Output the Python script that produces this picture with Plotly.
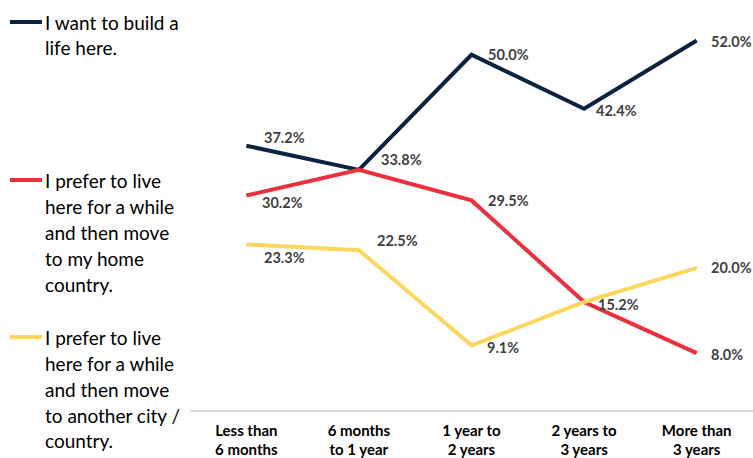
import plotly.graph_objects as go

categories = ["Less than<br>6 months", "6 months<br>to 1 year", "1 year to<br>2 years",
              "2 years to<br>3 years", "More than<br>3 years"]

build_life = [37.2, 33.8, 50.0, 42.4, 52.0]
home_country = [30.2, 33.8, 29.5, 15.2, 8.0]
other_city = [23.3, 22.5, 9.1, 15.2, 20.0]

series_names = [
    ["I want to build a", "life here."],
    ["I prefer to live", "here for a while", "and then move", "to my home", "country."],
    ["I prefer to live", "here for a while", "and then move", "to another city /", "country."],
]
series_values = [build_life, home_country, other_city]
colors = ["#0b2341", "#ee2f3e", "#fbd75b"]

# label offsets (px) per point: (xshift, yshift)
label_offsets = [
    [(16, 8), (20, 10), (14, 0), (10, -2), (12, -1)],
    [(14, -7), (20, 10), (14, 0), (12, -2), (12, -1)],
    [(16, -13), (16, 10), (13, -2), (12, -2), (12, 0)],
]

# plot area spans x 190..753 px, y 10..410 px
plot_left, plot_w = 190, 563
plot_top, plot_h = 10, 400
legend_rows = [22, 180, 337]  # first-line pixel rows
line_gap = 26

fig = go.Figure()
for lines, vals, col in zip(series_names, series_values, colors):
    fig.add_trace(go.Scatter(x=categories, y=vals, mode="lines", name=" ".join(lines),
                             line=dict(color=col, width=4), showlegend=False))

annotations = []
drawn = set()
for vals, offs in zip(series_values, label_offsets):
    for cat, v, (dx, dy) in zip(categories, vals, offs):
        if (cat, v) in drawn:
            continue  # coincident points share one label
        drawn.add((cat, v))
        annotations.append(dict(x=cat, y=v, xref="x", yref="y", text=f"{v:.1f}%",
                                showarrow=False, xanchor="left", yanchor="middle",
                                xshift=dx, yshift=dy,
                                font=dict(family="Lato", size=14.5, color="#404040", weight="bold")))


def px_to_paper_y(py):
    return 1 - (py - plot_top) / plot_h


shapes = []
for lines, col, row in zip(series_names, colors, legend_rows):
    shapes.append(dict(type="line", xref="paper", yref="paper",
                       x0=(10 - plot_left) / plot_w, x1=(42 - plot_left) / plot_w,
                       y0=px_to_paper_y(row), y1=px_to_paper_y(row),
                       line=dict(color=col, width=4)))
    for i, txt in enumerate(lines):
        annotations.append(dict(x=(43 - plot_left) / plot_w, y=px_to_paper_y(row + i * line_gap),
                                xref="paper", yref="paper", text=txt, showarrow=False,
                                xanchor="left", yanchor="middle", align="left",
                                font=dict(family="Lato", size=19, color="#000000")))

fig.update_layout(
    width=753, height=458,
    margin=dict(l=plot_left, r=0, t=plot_top, b=48, autoexpand=False),
    plot_bgcolor="white", paper_bgcolor="white",
    xaxis=dict(type="category", categoryarray=categories, showgrid=False,
               showline=True, linecolor="#d9d9d9", linewidth=1.5, ticks="",
               ticklabelstandoff=6, automargin=False,
               tickfont=dict(family="Lato", size=15, color="#000000", weight="bold"),
               range=[-0.5, 4.5]),
    yaxis=dict(range=[0, 400 / 7.105], visible=False, showgrid=False, zeroline=False),
    annotations=annotations, shapes=shapes,
)

fig.write_html("out.html")
